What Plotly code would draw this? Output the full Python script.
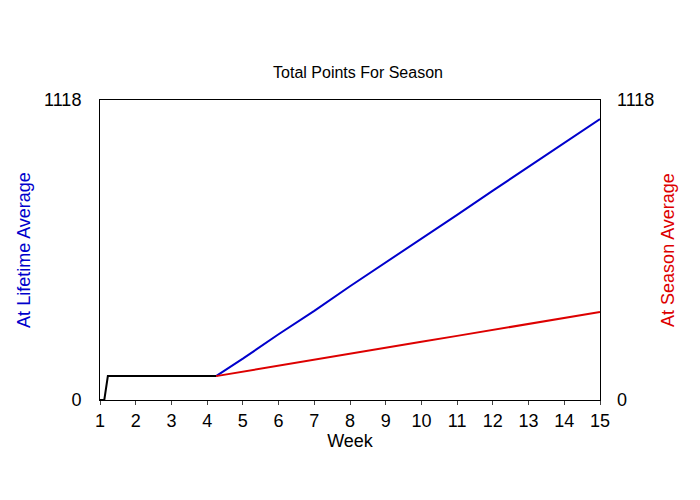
import plotly.graph_objects as go

black_x = [1, 1.12, 1.22, 2, 3, 4, 4.25]
black_y = [0, 0, 89, 89, 89, 89, 89]
weeks = [4.25, 5, 6, 7, 8, 9, 10, 11, 12, 13, 14, 15]
lifetime = [89, 154, 245, 332, 424, 512, 602, 690, 780, 868, 958, 1047]
season = [89, 106, 128, 150, 173, 195, 217, 239, 261, 284, 306, 328]
ymax = 1118
xticks = list(range(1, 16))

fig = go.Figure()
fig.add_trace(go.Scatter(x=weeks, y=lifetime, mode="lines", line=dict(color="#0000cc", width=2), showlegend=False))
fig.add_trace(go.Scatter(x=weeks, y=season, mode="lines", line=dict(color="#dd0000", width=2), showlegend=False, yaxis="y2"))
fig.add_trace(go.Scatter(x=black_x, y=black_y, mode="lines", line=dict(color="black", width=2), showlegend=False))

fnt = "Liberation Sans, Arial, sans-serif"
fig.update_layout(
    width=700, height=500,
    margin=dict(l=92, r=108, t=92, b=108, autoexpand=False),
    plot_bgcolor="white", paper_bgcolor="white",
    font=dict(family=fnt, color="black", size=18),
    title=dict(text="Total Points For Season", x=0.5, xanchor="center", y=0.872, yanchor="middle", font=dict(size=16)),
    xaxis=dict(range=[1, 15], tickvals=xticks, showgrid=False, zeroline=False, showline=True, linecolor="black", mirror=True,
               ticks="outside", ticklen=4, tickfont=dict(size=18), title=dict(text="Week", standoff=0, font=dict(size=18))),
    yaxis=dict(range=[0, ymax], tickvals=[0, ymax], showgrid=False, zeroline=False, showline=True, linecolor="black", mirror=True,
               title=dict(text="At Lifetime Average", font=dict(color="#0000cc", size=18), standoff=8), ticks="", ticklabelstandoff=14),
    yaxis2=dict(range=[0, ymax], tickvals=[0, ymax], overlaying="y", side="right", showgrid=False, zeroline=False,
                title=dict(text="At Season Average", font=dict(color="#dd0000", size=18), standoff=8), ticks="", ticklabelstandoff=16),
)
fig.write_html("out.html")
